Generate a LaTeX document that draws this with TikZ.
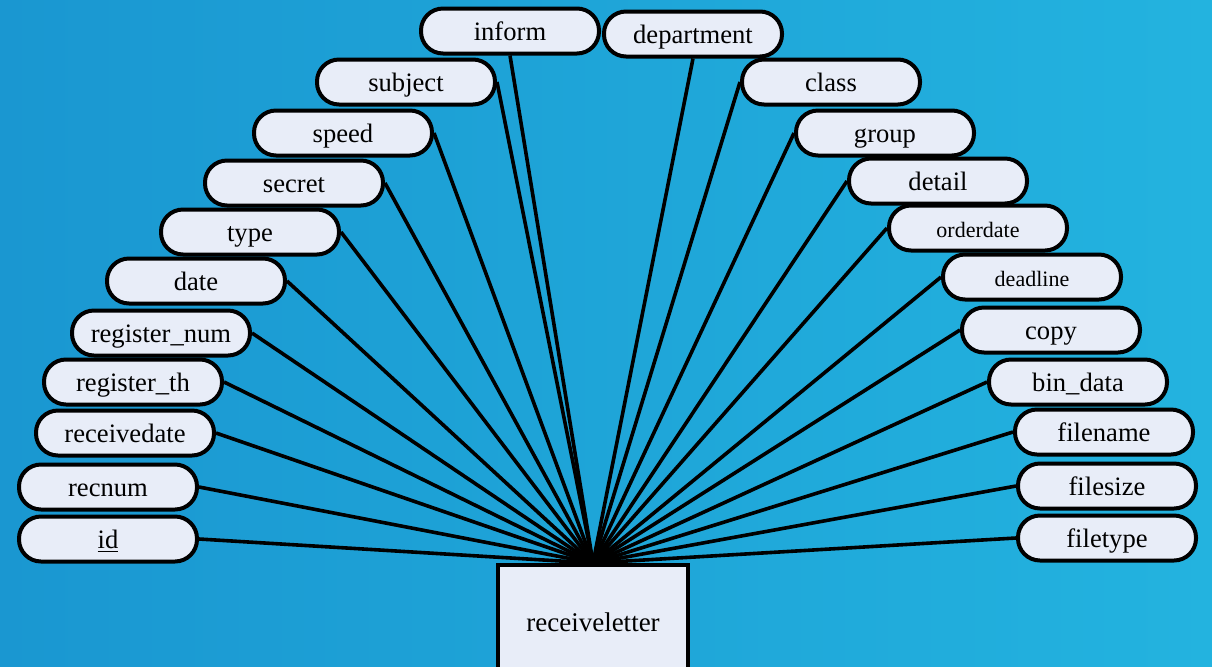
\documentclass[tikz,border=0pt]{standalone}
\usepackage{fontspec}
\setmainfont{Liberation Serif}
\definecolor{bgleft}{HTML}{1A97D1}
\definecolor{bgright}{HTML}{23B3DF}
\definecolor{attrfill}{HTML}{E8EDF8}
\pgfdeclarelayer{back}
\pgfdeclarelayer{lines}
\pgfsetlayers{back,lines,main}
\tikzset{
  attr/.style={draw=black, line width=2pt, fill=attrfill, rounded corners=11pt,
    minimum width=89pt, minimum height=22.5pt, inner sep=1pt,
    text height=0.98em, text depth=0pt, font=\fontsize{13.3}{15}\selectfont},
  smallattr/.style={attr, font=\fontsize{11}{13}\selectfont},
  entity/.style={draw=black, line width=2pt, fill=attrfill, minimum width=95pt,
    minimum height=57pt, font=\fontsize{13.5}{15}\selectfont},
  link/.style={line width=1.8pt, draw=black}
}
\begin{document}
\begin{tikzpicture}[x=0.5pt, y=-0.5pt]
\useasboundingbox (0,0) rectangle (1212,666);
\clip (0,0) rectangle (1212,666);
\begin{pgfonlayer}{back}
\shade[left color=bgleft, right color=bgright] (0,0) rectangle (1212,666);
\end{pgfonlayer}

\node[entity] (rl) at (593,622) {receiveletter};
\coordinate (hub) at (rl.north);

% left side
\node[attr] (id) at (108,539) {\underline{id}};
\node[attr] (recnum) at (108,487) {recnum};
\node[attr] (receivedate) at (125,433) {receivedate};
\node[attr] (registerth) at (133,382) {register\_th};
\node[attr] (registernum) at (161,333) {register\_num};
\node[attr] (date) at (196,281) {date};
\node[attr] (type) at (250,232) {type};
\node[attr] (secret) at (294,183) {secret};
\node[attr] (speed) at (343,133) {speed};
\node[attr] (subject) at (406,82) {subject};
\node[attr] (inform) at (510,31) {inform};
\node[attr] (department) at (693,34) {department};
% right side
\node[attr] (class) at (831,82) {class};
\node[attr] (group) at (885,133) {group};
\node[attr] (detail) at (938,181) {detail};
\node[smallattr] (orderdate) at (978,228) {orderdate};
\node[smallattr] (deadline) at (1032,277) {deadline};
\node[attr] (copy) at (1051,330) {copy};
\node[attr] (bindata) at (1078,382) {bin\_data};
\node[attr] (filename) at (1104,432) {filename};
\node[attr] (filesize) at (1107,486) {filesize};
\node[attr] (filetype) at (1107,538) {filetype};

\begin{pgfonlayer}{lines}
\foreach \n in {id,recnum,receivedate,registerth,registernum,date,type,secret,speed,subject}
  \draw[link] (\n.east) -- (hub);
\foreach \n in {class,group,detail,orderdate,deadline,copy,bindata,filename,filesize,filetype}
  \draw[link] (\n.west) -- (hub);
\draw[link] (inform.south) -- (hub);
\draw[link] (department.south) -- (hub);
\end{pgfonlayer}
\end{tikzpicture}
\end{document}
